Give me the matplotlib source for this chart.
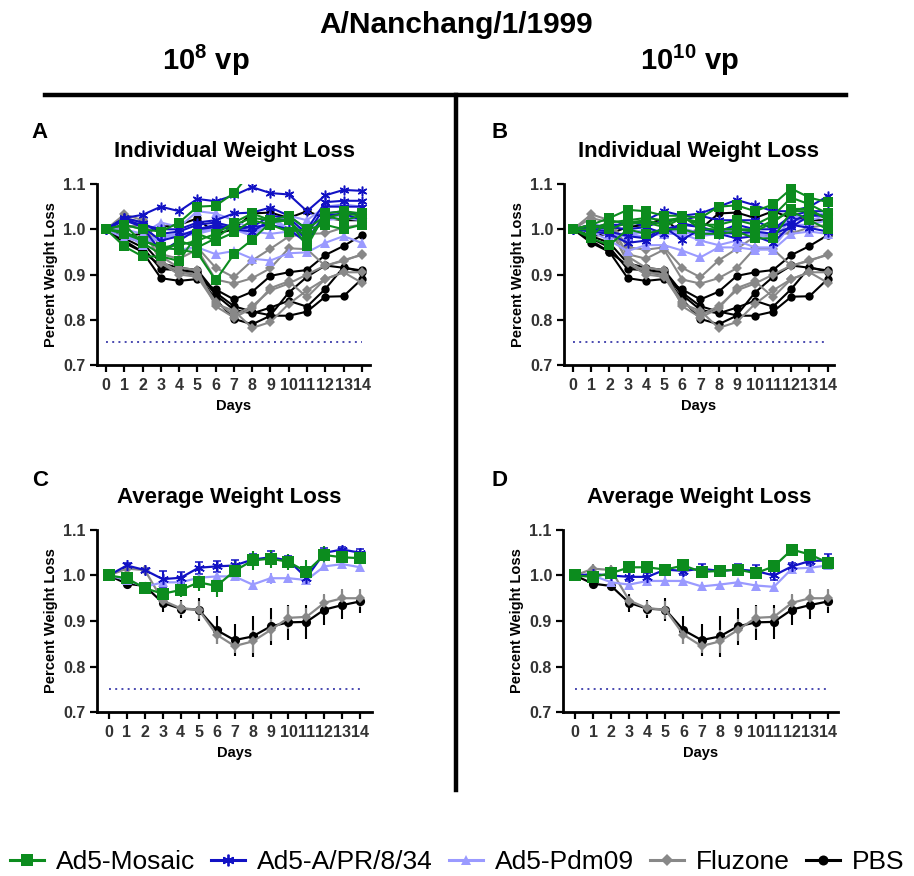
import matplotlib
matplotlib.use("Agg")
import matplotlib.pyplot as plt
from matplotlib.lines import Line2D
from matplotlib import font_manager

plt.rcParams['font.family'] = ['Liberation Sans', 'DejaVu Sans']
plt.rcParams['mathtext.fontset'] = 'custom'
plt.rcParams['mathtext.bf'] = 'Liberation Sans:bold'
plt.rcParams['mathtext.rm'] = 'Liberation Sans'

installed = {f.name for f in font_manager.fontManager.ttflist}
NARROW = 'Liberation Sans Narrow' if 'Liberation Sans Narrow' in installed else 'Liberation Sans'
if NARROW == 'Liberation Sans Narrow':
    plt.rcParams['mathtext.bf'] = 'Liberation Sans Narrow:bold'

days = list(range(15))
day_labels = [str(d) for d in days]
group_names = ["Ad5-Mosaic", "Ad5-A/PR/8/34", "Ad5-Pdm09", "Fluzone", "PBS"]

# ---- individual mice, shared control groups ----
pbs_mice = [
    [1.0, 0.985, 0.99, 1.005, 1.01, 1.024, 0.99, 1.0, 1.035, 1.037, 1.025, 1.04, 1.025, 1.02, 1.02],
    [1.0, 0.975, 0.95, 0.892, 0.886, 0.89, 0.867, 0.845, 0.862, 0.897, 0.905, 0.91, 0.943, 0.963, 0.987],
    [1.0, 0.98, 0.96, 0.912, 0.91, 0.905, 0.855, 0.822, 0.814, 0.827, 0.842, 0.829, 0.868, 0.916, 0.906],
    [1.0, 0.97, 0.95, 0.92, 0.905, 0.9, 0.845, 0.802, 0.79, 0.809, 0.809, 0.818, 0.851, 0.852, 0.89],
    [1.0, 0.985, 0.97, 0.925, 0.915, 0.91, 0.86, 0.83, 0.818, 0.81, 0.86, 0.895, 0.92, 0.915, 0.909],
]
fluzone_mice = [
    [1.0, 1.033, 1.02, 0.96, 0.955, 0.96, 0.915, 0.894, 0.931, 0.957, 0.984, 0.99, 0.991, 1.004, 1.01],
    [1.0, 1.025, 1.015, 0.945, 0.935, 0.955, 0.889, 0.88, 0.892, 0.914, 0.958, 0.956, 0.919, 0.932, 0.943],
    [1.0, 1.01, 1.0, 0.93, 0.905, 0.9, 0.84, 0.81, 0.83, 0.865, 0.88, 0.9, 0.92, 0.93, 0.945],
    [1.0, 1.005, 1.01, 0.925, 0.9, 0.895, 0.835, 0.82, 0.782, 0.795, 0.835, 0.865, 0.89, 0.905, 0.882],
    [1.0, 1.0, 1.015, 0.94, 0.915, 0.91, 0.83, 0.805, 0.825, 0.87, 0.885, 0.85, 0.89, 0.905, 0.905],
]

# ---- individual mice, 10^8 vp ----
mosaic_lo = [
    [1.0, 1.01, 1.0, 0.995, 1.015, 1.05, 1.052, 1.08, 1.13, 1.135, 1.13, 1.125, 1.135, 1.14, 1.14],
    [1.0, 0.995, 0.975, 0.96, 0.955, 0.948, 0.887, 0.945, 0.977, 1.015, 1.02, 0.962, 1.035, 1.04, 1.035],
    [1.0, 0.962, 0.94, 0.94, 0.93, 0.99, 0.975, 0.993, 1.02, 1.01, 0.995, 1.0, 1.01, 1.0, 1.01],
    [1.0, 0.99, 0.975, 0.96, 0.965, 0.975, 0.99, 1.015, 1.035, 1.02, 1.03, 1.0, 1.03, 1.02, 1.03],
    [1.0, 1.01, 0.97, 0.945, 0.975, 0.96, 0.98, 1.01, 1.025, 1.02, 1.02, 0.98, 1.025, 1.035, 1.03],
]
pr8_lo = [
    [1.0, 1.025, 1.032, 1.05, 1.04, 1.067, 1.062, 1.075, 1.093, 1.08, 1.077, 1.04, 1.075, 1.087, 1.085],
    [1.0, 1.02, 1.01, 1.0, 1.0, 1.015, 1.02, 1.035, 1.037, 1.048, 1.03, 1.0, 1.06, 1.063, 1.063],
    [1.0, 1.025, 1.015, 0.99, 0.995, 1.01, 1.015, 1.005, 1.005, 1.03, 1.025, 0.99, 1.05, 1.05, 1.05],
    [1.0, 1.02, 1.005, 0.975, 0.985, 1.0, 1.01, 1.0, 0.995, 1.02, 1.02, 0.975, 1.035, 1.04, 1.03],
    [1.0, 1.025, 1.005, 0.95, 0.975, 1.0, 1.005, 1.0, 1.005, 1.01, 1.0, 0.97, 1.03, 1.035, 1.02],
]
pdm_lo = [
    [1.0, 0.98, 0.975, 0.96, 0.955, 0.96, 0.945, 0.952, 0.935, 0.931, 0.947, 0.949, 0.97, 0.985, 0.97],
    [1.0, 1.0, 0.99, 1.015, 1.005, 1.04, 1.035, 1.02, 1.0, 1.01, 1.03, 1.02, 1.05, 1.055, 1.05],
    [1.0, 0.99, 0.97, 0.98, 0.99, 0.995, 1.005, 1.01, 0.995, 0.99, 0.995, 0.995, 1.02, 1.025, 1.02],
    [1.0, 0.99, 0.975, 0.985, 0.99, 0.99, 1.0, 1.005, 0.985, 1.02, 1.0, 1.005, 1.03, 1.03, 1.025],
    [1.0, 0.99, 0.965, 0.985, 0.985, 0.99, 1.005, 1.0, 0.985, 1.03, 1.0, 0.98, 1.03, 1.03, 1.025],
]

# ---- individual mice, 10^10 vp ----
mosaic_hi = [
    [1.0, 1.01, 1.025, 1.043, 1.04, 1.03, 1.03, 1.025, 1.05, 1.053, 1.04, 1.055, 1.09, 1.07, 1.06],
    [1.0, 1.0, 1.015, 1.02, 1.025, 1.02, 1.025, 1.01, 1.01, 1.02, 1.01, 1.03, 1.07, 1.055, 1.035],
    [1.0, 0.98, 0.965, 1.0, 0.99, 1.0, 1.0, 0.99, 0.99, 0.995, 0.98, 0.98, 1.04, 1.02, 1.0],
    [1.0, 1.01, 1.0, 1.015, 1.02, 1.01, 1.03, 1.0, 1.0, 1.0, 0.995, 1.015, 1.045, 1.045, 1.02],
    [1.0, 0.985, 1.02, 1.012, 1.015, 1.005, 1.025, 1.015, 1.0, 1.0, 1.0, 1.02, 1.04, 1.04, 1.025],
]
pr8_hi = [
    [1.0, 1.005, 1.01, 1.01, 1.02, 1.04, 1.03, 1.035, 1.05, 1.065, 1.053, 1.04, 1.04, 1.05, 1.073],
    [1.0, 1.01, 1.005, 1.0, 1.005, 1.02, 1.02, 1.03, 1.02, 1.02, 1.02, 1.0, 1.03, 1.04, 1.04],
    [1.0, 1.0, 0.995, 0.985, 0.98, 1.005, 0.977, 1.0, 0.995, 0.99, 0.995, 0.99, 1.005, 1.03, 1.03],
    [1.0, 0.995, 0.99, 0.97, 0.975, 1.0, 1.01, 1.005, 0.99, 0.98, 0.985, 0.97, 1.01, 1.003, 0.995],
    [1.0, 1.005, 1.0, 1.02, 1.005, 0.99, 1.013, 1.005, 0.995, 1.01, 1.0, 1.0, 1.015, 1.037, 1.027],
]
pdm_hi = [
    [1.0, 0.995, 0.975, 0.952, 0.965, 0.965, 0.953, 0.938, 0.96, 0.96, 0.955, 0.955, 0.99, 0.995, 0.99],
    [1.0, 1.0, 0.99, 0.985, 0.985, 0.99, 0.99, 0.975, 0.965, 0.975, 0.96, 0.96, 1.01, 1.01, 1.02],
    [1.0, 1.005, 0.99, 0.99, 1.0, 0.995, 1.0, 0.99, 0.99, 0.99, 0.99, 0.98, 1.02, 1.02, 1.03],
    [1.0, 1.0, 0.985, 0.985, 0.995, 0.995, 0.995, 0.985, 0.99, 1.0, 0.99, 0.99, 1.025, 1.03, 1.035],
    [1.0, 1.0, 0.985, 0.988, 0.995, 0.995, 1.002, 0.992, 0.995, 1.0, 0.995, 0.99, 1.03, 1.03, 1.035],
]

# ---- group means and SEM ----
pbs_mean = [1.0, 0.982, 0.977, 0.94, 0.927, 0.925, 0.88, 0.858, 0.866, 0.888, 0.897, 0.898, 0.925, 0.935, 0.943]
pbs_sem = [0.0, 0.005, 0.008, 0.02, 0.02, 0.025, 0.03, 0.035, 0.045, 0.04, 0.038, 0.038, 0.033, 0.03, 0.025]
fluzone_mean = [1.0, 1.015, 1.012, 0.945, 0.928, 0.925, 0.87, 0.845, 0.855, 0.88, 0.907, 0.909, 0.94, 0.95, 0.95]
fluzone_sem = [0.0, 0.01, 0.01, 0.01, 0.015, 0.02, 0.02, 0.015, 0.025, 0.025, 0.025, 0.02, 0.02, 0.02, 0.02]

mosaic_lo_mean = [1.0, 0.994, 0.972, 0.96, 0.968, 0.985, 0.977, 1.01, 1.033, 1.037, 1.03, 1.008, 1.045, 1.04, 1.038]
mosaic_lo_sem = [0.0, 0.008, 0.008, 0.012, 0.015, 0.018, 0.025, 0.022, 0.02, 0.02, 0.018, 0.025, 0.02, 0.015, 0.015]
pr8_lo_mean = [1.0, 1.022, 1.012, 0.992, 0.995, 1.017, 1.02, 1.022, 1.035, 1.04, 1.033, 0.995, 1.05, 1.057, 1.05]
pr8_lo_sem = [0.0, 0.005, 0.005, 0.017, 0.012, 0.013, 0.012, 0.012, 0.012, 0.013, 0.01, 0.01, 0.01, 0.006, 0.008]
pdm_lo_mean = [1.0, 0.99, 0.975, 0.985, 0.985, 0.995, 0.998, 0.998, 0.98, 0.994, 0.994, 0.99, 1.02, 1.025, 1.018]
pdm_lo_sem = [0.0, 0.005, 0.005, 0.005, 0.005, 0.008, 0.01, 0.01, 0.01, 0.012, 0.01, 0.008, 0.008, 0.008, 0.008]

mosaic_hi_mean = [1.0, 0.997, 1.005, 1.018, 1.018, 1.013, 1.022, 1.008, 1.01, 1.013, 1.005, 1.02, 1.057, 1.046, 1.028]
mosaic_hi_sem = [0.0, 0.005, 0.008, 0.006, 0.006, 0.006, 0.006, 0.007, 0.008, 0.008, 0.008, 0.01, 0.008, 0.006, 0.01]
pr8_hi_mean = [1.0, 1.003, 1.0, 0.997, 0.997, 1.013, 1.01, 1.015, 1.01, 1.013, 1.01, 1.0, 1.02, 1.032, 1.033]
pr8_hi_sem = [0.0, 0.005, 0.005, 0.01, 0.008, 0.008, 0.01, 0.01, 0.01, 0.012, 0.012, 0.01, 0.008, 0.01, 0.015]
pdm_hi_mean = [1.0, 1.0, 0.985, 0.98, 0.988, 0.988, 0.988, 0.976, 0.98, 0.985, 0.978, 0.975, 1.015, 1.017, 1.022]
pdm_hi_sem = [0.0, 0.005, 0.005, 0.008, 0.005, 0.01, 0.01, 0.01, 0.008, 0.008, 0.01, 0.01, 0.008, 0.008, 0.008]

threshold = 0.75

# ---- styles ----
GREEN = "#0c8c1e"
BLUE = "#1212c4"
LIGHT = "#9a9aff"
GREY = "#888888"
BLACK = "#000000"
TICK_C = "#333333"
STYLE = {
    "Ad5-Mosaic": dict(color=GREEN, marker="s", ms=7.2, mew=0),
    "Ad5-A/PR/8/34": dict(color=BLUE, marker=(6, 2, 0), ms=7, mew=1.1),
    "Ad5-Pdm09": dict(color=LIGHT, marker="^", ms=6.5, mew=0),
    "Fluzone": dict(color=GREY, marker="D", ms=4.8, mew=0),
    "PBS": dict(color=BLACK, marker="o", ms=6, mew=0),
}
DRAW_ORDER = ["PBS", "Fluzone", "Ad5-Pdm09", "Ad5-A/PR/8/34", "Ad5-Mosaic"]

fig = plt.figure(figsize=(9.14, 8.76), dpi=100)


def style_axes(ax, xlim):
    ax.set_xlim(*xlim)
    ax.set_ylim(0.7, 1.1)
    ax.set_xticks(days)
    ax.set_xticklabels(day_labels)
    ax.set_yticks([0.7, 0.8, 0.9, 1.0, 1.1])
    ax.set_yticklabels(["0.7", "0.8", "0.9", "1.0", "1.1"])
    for s in ("top", "right"):
        ax.spines[s].set_visible(False)
    for s in ("left", "bottom"):
        ax.spines[s].set_linewidth(2)
    ax.tick_params(axis="both", direction="out", length=5, width=1.6,
                   labelsize=11.5, labelcolor=TICK_C, pad=3)
    ax.tick_params(axis="x", pad=4)
    for lab in ax.get_xticklabels() + ax.get_yticklabels():
        lab.set_fontweight("bold")
    ax.set_ylabel("Percent Weight Loss", fontsize=10.5, fontweight="bold", labelpad=4)
    ax.set_xlabel("Days", fontsize=10.5, fontweight="bold", labelpad=5)
    ax.plot([0, 14], [threshold, threshold], linestyle=(0, (1, 2.2)),
            color="#4a4ab0", lw=1.4, zorder=1)


def draw_individual(ax, groups):
    for name in DRAW_ORDER:
        st = STYLE[name]
        for mouse in groups[name]:
            ax.plot(days, mouse, color=st["color"], lw=1.5, marker=st["marker"],
                    ms=st["ms"], mew=st["mew"], mec=st["color"], mfc=st["color"], zorder=2)


def draw_average(ax, groups):
    for name in DRAW_ORDER:
        st = STYLE[name]
        mean, sem = groups[name]
        ax.errorbar(days, mean, yerr=sem, color=st["color"], lw=1.6, elinewidth=1.5,
                    capsize=3.2, capthick=1.5, marker=st["marker"], ms=st["ms"] * 1.1,
                    mew=st["mew"], mec=st["color"], mfc=st["color"], zorder=2)


ind_lo = {"Ad5-Mosaic": mosaic_lo, "Ad5-A/PR/8/34": pr8_lo, "Ad5-Pdm09": pdm_lo,
          "Fluzone": fluzone_mice, "PBS": pbs_mice}
ind_hi = {"Ad5-Mosaic": mosaic_hi, "Ad5-A/PR/8/34": pr8_hi, "Ad5-Pdm09": pdm_hi,
          "Fluzone": fluzone_mice, "PBS": pbs_mice}
avg_lo = {"Ad5-Mosaic": (mosaic_lo_mean, mosaic_lo_sem), "Ad5-A/PR/8/34": (pr8_lo_mean, pr8_lo_sem),
          "Ad5-Pdm09": (pdm_lo_mean, pdm_lo_sem), "Fluzone": (fluzone_mean, fluzone_sem),
          "PBS": (pbs_mean, pbs_sem)}
avg_hi = {"Ad5-Mosaic": (mosaic_hi_mean, mosaic_hi_sem), "Ad5-A/PR/8/34": (pr8_hi_mean, pr8_hi_sem),
          "Ad5-Pdm09": (pdm_hi_mean, pdm_hi_sem), "Fluzone": (fluzone_mean, fluzone_sem),
          "PBS": (pbs_mean, pbs_sem)}

axA = fig.add_axes([0.1061, 0.5833, 0.2987, 0.2066])
axB = fig.add_axes([0.6171, 0.5833, 0.2954, 0.2066])
axC = fig.add_axes([0.1061, 0.1872, 0.3009, 0.2078])
axD = fig.add_axes([0.6160, 0.1872, 0.3009, 0.2078])

draw_individual(axA, ind_lo)
draw_individual(axB, ind_hi)
draw_average(axC, avg_lo)
draw_average(axD, avg_hi)
style_axes(axA, (-0.5, 14.45))
style_axes(axB, (-0.5, 14.35))
style_axes(axC, (-0.66, 14.65))
style_axes(axD, (-0.66, 14.55))

H = 876.0
W = 914.0


def fx(px):
    return px / W


def fy(py):
    return 1 - py / H


# headers
fig.text(fx(456), fy(25), "A/Nanchang/1/1999", ha="center", va="center",
         fontsize=21.5, fontweight="bold", family=[NARROW, 'DejaVu Sans'])
fig.text(fx(206), fy(60), r"10$^{\mathbf{8}}$ vp", ha="center", va="center",
         fontsize=21, fontweight="bold", family=[NARROW, 'DejaVu Sans'])
fig.text(fx(690), fy(60), r"10$^{\mathbf{10}}$ vp", ha="center", va="center",
         fontsize=21, fontweight="bold", family=[NARROW, 'DejaVu Sans'])
fig.add_artist(Line2D([fx(45), fx(846)], [fy(95), fy(95)], color="black", lw=3.2))
fig.add_artist(Line2D([fx(456), fx(456)], [fy(95), fy(790)], color="black", lw=3.2))

# panel letters and titles
for lx, ly, letter in [(40, 133, "A"), (500, 133, "B"), (40, 481, "C"), (500, 481, "D")]:
    fig.text(fx(lx), fy(ly), letter, ha="center", va="center", fontsize=16, fontweight="bold")
for tx, ty, title in [(234, 152, "Individual Weight Loss"), (699, 152, "Individual Weight Loss"),
                      (229, 497, "Average Weight Loss"), (699, 497, "Average Weight Loss")]:
    fig.text(fx(tx), fy(ty), title, ha="center", va="center", fontsize=16, fontweight="bold")

# legend
handles = []
for name in group_names:
    st = STYLE[name]
    handles.append(Line2D([], [], color=st["color"], lw=2.2, marker=st["marker"],
                          ms=st["ms"] * 1.2, mew=st["mew"] * 1.2, mec=st["color"], mfc=st["color"]))
fig.legend(handles, group_names, loc="center", bbox_to_anchor=(0.5, fy(862)), ncol=5,
           frameon=False, prop={"family": [NARROW, 'DejaVu Sans'], "size": 19},
           handlelength=1.3, handletextpad=0.45, columnspacing=0.6, borderaxespad=0)

fig.savefig("out.png", dpi=100)
